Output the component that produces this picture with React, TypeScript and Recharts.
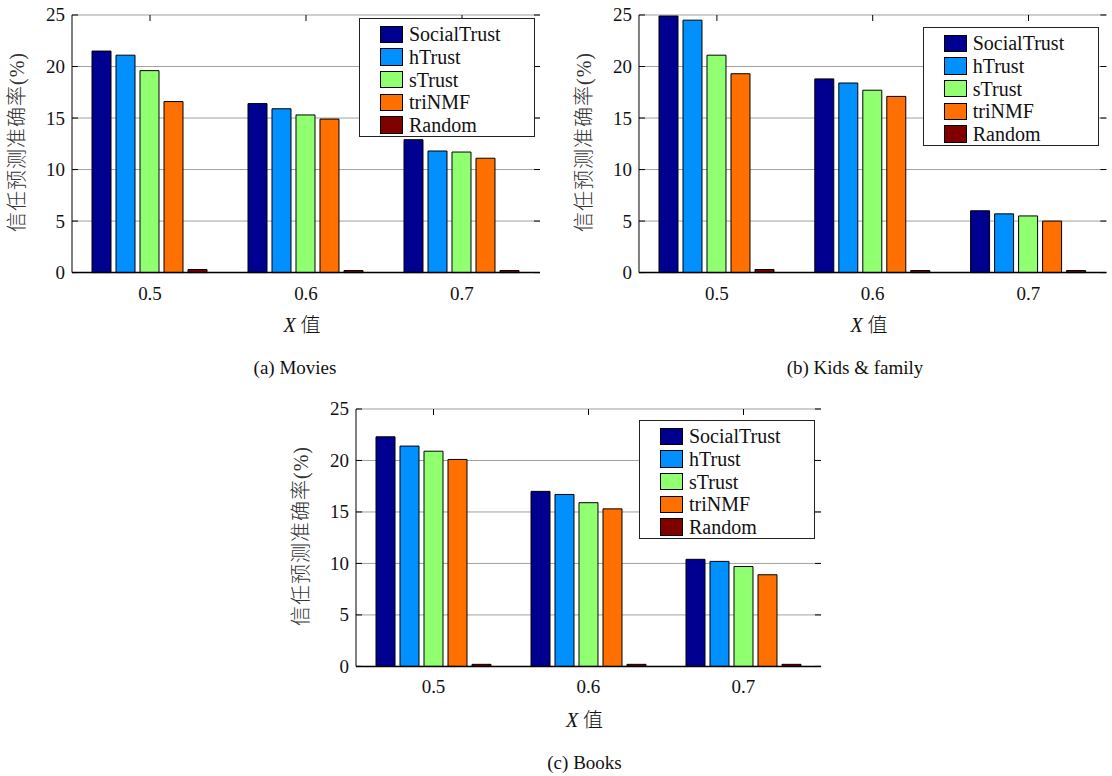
import { BarChart, Bar, XAxis, YAxis, CartesianGrid, Legend } from "recharts"

const X_VALUES = ["0.5", "0.6", "0.7"]
const SERIES_NAMES = ["SocialTrust", "hTrust", "sTrust", "triNMF", "Random"]
const SERIES_COLORS = ["#000090", "#0090ff", "#90ff70", "#ff7000", "#800000"]
const Y_TICKS = [0, 5, 10, 15, 20, 25]

// one row per series (SERIES_NAMES order), one column per X value
const MOVIES = [
  [21.5, 16.4, 12.9],
  [21.1, 15.9, 11.8],
  [19.6, 15.3, 11.7],
  [16.6, 14.9, 11.1],
  [0.3, 0.2, 0.2],
]
const KIDS = [
  [24.9, 18.8, 6.0],
  [24.5, 18.4, 5.7],
  [21.1, 17.7, 5.5],
  [19.3, 17.1, 5.0],
  [0.3, 0.2, 0.2],
]
const BOOKS = [
  [22.3, 17.0, 10.4],
  [21.4, 16.7, 10.2],
  [20.9, 15.9, 9.7],
  [20.1, 15.3, 8.9],
  [0.2, 0.2, 0.2],
]

const SERIF = '"Liberation Serif", "Times New Roman", serif'
const MIXED = '"Liberation Serif", "Noto Sans CJK SC", serif'

const M = { top: 15, left: 22, right: 12, bottom: 10 }
const Y_AXIS_W = 50
const X_AXIS_H = 30

function XTick({ x, y, payload, plotH }: any) {
  return (
    <g>
      <line x1={x} x2={x} y1={y - plotH} y2={y - plotH + 6} stroke="#000" />
      <text x={x} y={y + 27} textAnchor="middle" fontFamily={SERIF} fontSize={19} fill="#111">
        {payload.value}
      </text>
    </g>
  )
}

function YTick({ x, y, payload, plotW }: any) {
  return (
    <g>
      <line x1={x} x2={x + 6} y1={y} y2={y} stroke="#000" />
      <line x1={x + plotW - 6} x2={x + plotW} y1={y} y2={y} stroke="#000" />
      <text x={x - 7} y={y + 6.5} textAnchor="end" fontFamily={SERIF} fontSize={19} fill="#111">
        {payload.value}
      </text>
    </g>
  )
}

function LegendBox() {
  return (
    <div style={{ width: 176, height: 119, boxSizing: "border-box", border: "1px solid #222", background: "#fff", paddingTop: 4 }}>
      {SERIES_NAMES.map((n, i) => (
        <div key={n} style={{ display: "flex", alignItems: "center", height: 22.7 }}>
          <span style={{ marginLeft: 20, width: 23, height: 17.5, boxSizing: "border-box", border: "1px solid #000", background: SERIES_COLORS[i] }} />
          <span style={{ marginLeft: 6, fontFamily: SERIF, fontSize: 20, lineHeight: 1, color: "#111" }}>{n}</span>
        </div>
      ))}
    </div>
  )
}

interface PanelProps {
  left: number
  top: number
  plotW: number
  plotH: number
  values: number[][]
  caption: string
  captionDx: number
  legendTop: number
  legendRight: number
}

function Centered({ x, y, rotate, children, style }: any) {
  return (
    <div
      style={{
        position: "absolute", left: x, top: y, whiteSpace: "nowrap", lineHeight: 1,
        transform: `translate(-50%, -50%)${rotate ? " rotate(-90deg)" : ""}`,
        ...style,
      }}
    >
      {children}
    </div>
  )
}

function Panel({ left, top, plotW, plotH, values, caption, captionDx, legendTop, legendRight }: PanelProps) {
  const data = X_VALUES.map((x, i) => {
    const row: Record<string, unknown> = { x }
    SERIES_NAMES.forEach((n, s) => { row[n] = values[s][i] })
    return row
  })
  const px = M.left + Y_AXIS_W
  const W = px + plotW + M.right
  const H = M.top + plotH + X_AXIS_H + M.bottom

  return (
    <div style={{ position: "absolute", left: left - px, top: top - M.top, width: W, height: H + 90 }}>
      <BarChart width={W} height={H} data={data} margin={M} barCategoryGap={20} barGap={5}>
        <CartesianGrid vertical={false} stroke="#a0a0a0" />
        <XAxis
          dataKey="x" height={X_AXIS_H} interval={0} tickSize={0} tickMargin={0} tickLine={false}
          axisLine={{ stroke: "#000", strokeWidth: 1.5 }} tick={<XTick plotH={plotH} />}
        />
        <XAxis xAxisId="top" orientation="top" dataKey="x" height={0} tick={false} tickLine={false} axisLine={{ stroke: "#000" }} />
        <YAxis
          domain={[0, 25]} ticks={Y_TICKS} width={Y_AXIS_W} tickSize={0} tickMargin={0} tickLine={false}
          axisLine={{ stroke: "#000" }} tick={<YTick plotW={plotW} />}
        />
        <YAxis yAxisId="right" orientation="right" domain={[0, 25]} ticks={Y_TICKS} width={0} tick={false} tickLine={false} axisLine={{ stroke: "#000" }} />
        <Legend
          layout="vertical" align="center" verticalAlign="middle"
          wrapperStyle={{ top: M.top + legendTop, left: px + plotW - legendRight - 176, width: 176, height: 119 }}
          content={() => <LegendBox />}
        />
        {SERIES_NAMES.map((n, s) => (
          <Bar key={n} dataKey={n} name={n} fill={SERIES_COLORS[s]} stroke="#000" strokeWidth={1} isAnimationActive={false} />
        ))}
      </BarChart>
      <Centered x={px - 55} y={M.top + plotH / 2 - 2} rotate style={{ fontFamily: MIXED, fontSize: 20, fontWeight: 300, color: "#333", letterSpacing: 1 }}>
        信任预测准确率(%)
      </Centered>
      <Centered x={px + plotW / 2 - 4} y={M.top + plotH + 53} style={{ fontFamily: MIXED, fontSize: 20, color: "#111" }}>
        <i>X</i> <span style={{ fontWeight: 300 }}>值</span>
      </Centered>
      <Centered x={px + plotW / 2 + captionDx} y={M.top + plotH + 95} style={{ fontFamily: SERIF, fontSize: 19, color: "#111" }}>
        {caption}
      </Centered>
    </div>
  )
}

export default function App() {
  return (
    <div style={{ position: "absolute", left: 0, top: 0, width: 1112, height: 776, overflow: "hidden", background: "#fff" }}>
      <Panel left={72} top={14.7} plotW={468} plotH={257.6} values={MOVIES} caption="(a) Movies" captionDx={-11} legendTop={3.3} legendRight={5} />
      <Panel left={639.3} top={14.7} plotW={467.4} plotH={257.6} values={KIDS} caption="(b) Kids & family" captionDx={-18} legendTop={12.3} legendRight={8} />
      <Panel left={356} top={409.3} plotW={465} plotH={257.4} values={BOOKS} caption="(c) Books" captionDx={-4} legendTop={10.7} legendRight={6} />
    </div>
  )
}
